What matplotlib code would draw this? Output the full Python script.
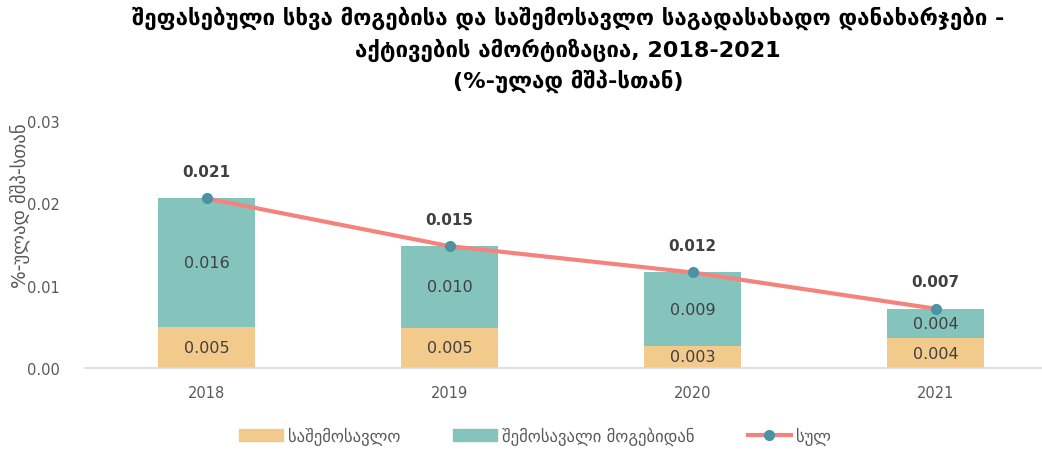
import numpy as np
import matplotlib
matplotlib.use("Agg")
import matplotlib.pyplot as plt
from matplotlib.lines import Line2D
from matplotlib.patches import Patch

plt.rcParams['font.family'] = ['DejaVu Sans']

years = ['2018', '2019', '2020', '2021']
income_tax = [0.0050, 0.0049, 0.0027, 0.0036]
profit_tax = [0.0156, 0.0099, 0.0089, 0.0036]
total = [a + b for a, b in zip(income_tax, profit_tax)]

title = ("შეფასებული სხვა მოგებისა და საშემოსავლო საგადასახადო დანახარჯები -\n"
         "აქტივების ამორტიზაცია, 2018-2021\n"
         "(%-ულად მშპ-სთან)")
ylabel = "%-ულად მშპ-სთან"
legend_labels = ["საშემოსავლო", "შემოსავალი მოგებიდან", "სულ"]

c_orange = '#F2CA8C'
c_teal = '#85C4BC'
c_line = '#F4837D'
c_marker = '#4B92A2'
c_text = '#404040'
c_axis = '#595959'

fig = plt.figure(figsize=(10.42, 4.52), dpi=100)
ax = fig.add_axes([85 / 1042, 83 / 452, 957 / 1042, 247 / 452])

x = np.arange(len(years))
w = 0.4
ax.bar(x, income_tax, w, color=c_orange)
ax.bar(x, profit_tax, w, bottom=income_tax, color=c_teal)
ax.plot(x, total, color=c_line, linewidth=3, marker='o', markersize=7,
        markerfacecolor=c_marker, markeredgecolor=c_marker, zorder=5)

for i in range(len(years)):
    ax.text(x[i], income_tax[i] / 2, f"{income_tax[i]:.3f}", ha='center', va='center',
            fontsize=11.5, color=c_text)
    ax.text(x[i], income_tax[i] + profit_tax[i] / 2, f"{profit_tax[i]:.3f}", ha='center',
            va='center', fontsize=11.5, color=c_text)
    ax.annotate(f"{total[i]:.3f}", (x[i], total[i]), xytext=(0, 14), textcoords='offset points',
                ha='center', va='bottom', fontsize=11, fontweight='bold', color=c_text)

ax.set_xlim(-0.5, -0.5 + 957 / 243)
ax.set_ylim(0, 0.03)
ax.set_yticks([0, 0.01, 0.02, 0.03])
ax.set_yticklabels(['0.00', '0.01', '0.02', '0.03'])
ax.set_xticks(x)
ax.set_xticklabels(years)
ax.tick_params(axis='both', length=0, labelsize=10.5, labelcolor=c_axis)
ax.tick_params(axis='y', pad=18)
ax.tick_params(axis='x', pad=12)
for s in ['top', 'right', 'left']:
    ax.spines[s].set_visible(False)
ax.spines['bottom'].set_color('#D9D9D9')
ax.spines['bottom'].set_linewidth(1.2)

fig.text(20 / 1042, 246 / 452, ylabel, rotation=90, ha='center', va='center',
         fontsize=13.5, color=c_axis)

fig.text(0.5 + 47 / 1042, 1 - 7 / 452, title, ha='center', va='top', fontsize=16,
         fontweight='bold', color='black', linespacing=1.42)

handles = [Patch(color=c_orange), Patch(color=c_teal),
           Line2D([0], [0], color=c_line, linewidth=3, marker='o', markersize=7,
                  markerfacecolor=c_marker, markeredgecolor=c_marker)]
fig.legend(handles, legend_labels, loc='center', bbox_to_anchor=(535 / 1042, 1 - 437 / 452),
           ncol=3, frameon=False, fontsize=12, labelcolor=c_axis, handlelength=2.6,
           columnspacing=3.2, handletextpad=0.3)

fig.savefig('out.png', dpi=100)
